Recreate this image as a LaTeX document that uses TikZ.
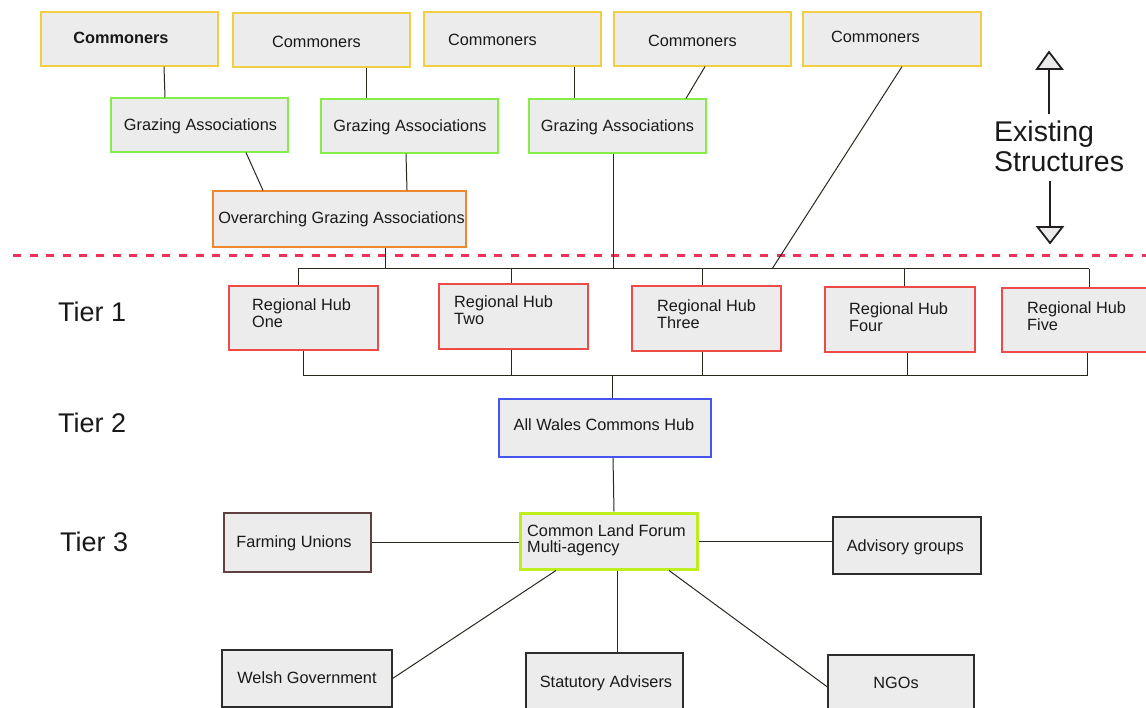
\documentclass[tikz,border=0pt]{standalone}
\usepackage{fontspec}
\setmainfont{Liberation Sans}
\definecolor{boxfill}{RGB}{236,236,236}
\definecolor{comc}{RGB}{242,206,70}
\definecolor{grzc}{RGB}{130,238,70}
\definecolor{orgc}{RGB}{240,135,45}
\definecolor{hubc}{RGB}{238,75,70}
\definecolor{bluc}{RGB}{70,85,240}
\definecolor{clfc}{RGB}{190,238,30}
\definecolor{fuc}{RGB}{95,65,65}
\definecolor{darkc}{RGB}{45,45,45}
\definecolor{linec}{RGB}{40,40,30}
\definecolor{dashc}{RGB}{235,50,90}
\definecolor{txtc}{RGB}{25,25,25}
\definecolor{arrc}{RGB}{35,31,32}
\definecolor{headfill}{RGB}{235,235,235}
\begin{document}
\begin{tikzpicture}[x=1pt,y=-1pt,
  every node/.style={font=\fontsize{16.3}{17}\selectfont, text=txtc},
  box/.style={rectangle, draw, fill=boxfill, line width=1.2pt, inner sep=0pt},
  cbox/.style={box, draw=comc, minimum width=177pt, minimum height=54pt},
  gbox/.style={box, draw=grzc, minimum width=177pt, minimum height=54pt},
  hbox/.style={box, draw=hubc, minimum width=149pt, minimum height=64pt},
  tbox/.style={box, draw=darkc, line width=1.1pt},
  txt/.style={inner sep=0pt, text height=11.7pt, text depth=0pt},
  htxt/.style={inner sep=0pt, anchor=north west, align=left},
  conn/.style={draw=linec, line width=1pt},
  tier/.style={inner sep=0pt, anchor=west, font=\fontsize{27}{30}\selectfont},
  shaft/.style={draw=arrc, line width=2.6pt},
  head/.style={draw=arrc, fill=headfill, line width=1.8pt, line join=miter}]
\useasboundingbox (0,0) rectangle (1146,708);

% Commoners
\node[cbox] (c1) at (129.5,39) {};
\node[cbox] (c2) at (321.5,40) {};
\node[cbox] (c3) at (512.5,39) {};
\node[cbox] (c4) at (702.5,39) {};
\node[cbox, minimum width=178pt] (c5) at (892,39) {};
\node[txt] (c1t) at (121,38) {\bfseries Commoners};
\node[txt] (c2t) at (316.5,42) {Commoners};
\node[txt] (c3t) at (492.5,40) {Commoners};
\node[txt] (c4t) at (692.5,41) {Commoners};
\node[txt] (c5t) at (875.5,37) {Commoners};

% Grazing associations
\node[gbox] (ga1) at (199.5,125) {};
\node[gbox] (ga2) at (409.5,126) {};
\node[gbox] (ga3) at (617.5,126) {};
\node[txt] (ga1t) at (200.5,125) {Grazing Associations};
\node[txt] (ga2t) at (410,126) {Grazing Associations};
\node[txt] (ga3t) at (617.5,126) {Grazing Associations};

% Overarching
\node[box, draw=orgc, minimum width=253pt, minimum height=56pt] (oga) at (339.5,219) {};
\node[txt] (ogat) at (341.5,218) {Overarching Grazing Associations};

% dashed separator
\coordinate (dl) at (13,256);
\coordinate (dr) at (1146,256);
\draw[dashc, line width=3pt, dash pattern=on 8pt off 8.6pt] (dl) -- (dr);

% Existing structures
\node[inner sep=0pt, anchor=north west, align=left, font=\fontsize{28.5}{30}\selectfont] (ex) at (994,121) {Existing\\Structures};
\coordinate (us) at (1049,114);
\coordinate (ub) at (1049,69);
\coordinate (ds) at (1050,181);
\coordinate (db) at (1050,227);
\draw[shaft] (us) -- (ub);
\draw[shaft] (ds) -- (db);
\draw[head] ([xshift=-12pt]ub) -- ([yshift=17pt]ub) -- ([xshift=13pt]ub) -- cycle;
\draw[head] ([xshift=-12.5pt]db) -- ([yshift=-16pt]db) -- ([xshift=12.5pt]db) -- cycle;

% Tier labels
\node[tier] (t1) at (58,312) {Tier 1};
\node[tier] (t2) at (58,423) {Tier 2};
\node[tier] (t3) at (60,542) {Tier 3};

% Regional hubs
\node[hbox] (h1) at (303.5,318) {};
\node[hbox, minimum height=65pt] (h2) at (513.5,316.5) {};
\node[hbox, minimum height=65pt] (h3) at (706.5,318.5) {};
\node[hbox, minimum width=150pt, minimum height=65pt] (h4) at (900,319.5) {};
\node[hbox] (h5) at (1076.5,320) {};
\node[htxt] (h1t) at (252,298) {Regional Hub\\One};
\node[htxt] (h2t) at (454,295) {Regional Hub\\Two};
\node[htxt] (h3t) at (657,299) {Regional Hub\\Three};
\node[htxt] (h4t) at (849,302) {Regional Hub\\Four};
\node[htxt] (h5t) at (1027,301) {Regional Hub\\Five};

% All Wales hub
\node[box, draw=bluc, minimum width=212pt, minimum height=58pt] (awc) at (605,428) {};
\node[txt] (awct) at (604,425) {All Wales Commons Hub};

% Common Land Forum
\node[box, draw=clfc, line width=3pt, minimum width=177pt, minimum height=56pt] (clf) at (608.5,541) {};
\node[htxt, font=\fontsize{16.3}{16}\selectfont] (clft) at (527,524) {Common Land Forum\\Multi-agency};

% Tier 3 partners
\node[box, draw=fuc, line width=1.1pt, minimum width=147pt, minimum height=59pt] (fu) at (297.5,542.5) {};
\node[txt] (fut) at (294,542) {Farming Unions};
\node[tbox, minimum width=148pt, minimum height=57pt] (ag) at (907,545.5) {};
\node[txt] (agt) at (905.3,545.7) {Advisory groups};
\node[tbox, minimum width=170pt, minimum height=57pt] (wg) at (307,678.5) {};
\node[txt] (wgt) at (307,678) {Welsh Government};
\node[tbox, minimum width=157pt, minimum height=64pt] (sa) at (604.5,685) {};
\node[txt] (sat) at (606,682) {Statutory Advisers};
\node[tbox, minimum width=146pt, minimum height=62pt] (ngo) at (901,686) {};
\node[txt] (ngot) at (896,683) {NGOs};

% connectors: commoners to grazing associations
\draw[conn] ([xshift=34.5pt]c1.south) -- ([xshift=-34.5pt]ga1.north);
\draw[conn] ([xshift=44.5pt]c2.south) -- ([xshift=-43.5pt]ga2.north);
\draw[conn] ([xshift=61.5pt]c3.south) -- ([xshift=-43.5pt]ga3.north);
\draw[conn] ([xshift=2.5pt]c4.south) -- ([xshift=68.5pt]ga3.north);
\draw[conn] ([xshift=46.5pt]ga1.south) -- ([xshift=-76.5pt]oga.north);
\draw[conn] ([xshift=-3.5pt]ga2.south) -- ([xshift=67.5pt]oga.north);

% upper bus
\coordinate (tbR) at (1089,269);
\coordinate (c5e) at (772,269);
\coordinate (ga3e) at (613,269);
\coordinate (ogae) at (385,269);
\draw[conn] (tbR) -| ([xshift=-5.5pt]h1.north);
\draw[conn] (tbR) -| ([xshift=-2.5pt]h2.north);
\draw[conn] (tbR) -| ([xshift=-4.5pt]h3.north);
\draw[conn] (tbR) -| ([xshift=4pt]h4.north);
\draw[conn] (tbR) -- ([xshift=12.5pt]h5.north);
\draw[conn] ([xshift=10pt]c5.south) -- (c5e);
\draw[conn] ([xshift=-4.5pt]ga3.south) -- (ga3e);
\draw[conn] ([xshift=45.5pt]oga.south) -- (ogae);

% lower bus
\coordinate (bbR) at (1087,376);
\draw[conn] (bbR) -| ([xshift=-0.5pt]h1.south);
\draw[conn] (bbR) -| ([xshift=-2.5pt]h2.south);
\draw[conn] (bbR) -| ([xshift=-4.5pt]h3.south);
\draw[conn] (bbR) -| ([xshift=7pt]h4.south);
\draw[conn] (bbR) -- ([xshift=10.5pt]h5.south);
\draw[conn] (bbR) -| ([xshift=7pt]awc.north);

% tier 2 to tier 3
\draw[conn] ([xshift=8pt]awc.south) -- ([xshift=5.5pt]clf.north);
\draw[conn] (fu.east) -- (fu.east -| clf.west);
\draw[conn] (clf.east) -- (clf.east -| ag.west);
\draw[conn] ([xshift=-52.5pt]clf.south) -- (wg.east);
\draw[conn] ([xshift=8.5pt]clf.south) -- ([xshift=12.5pt]sa.north);
\draw[conn] ([xshift=60.5pt]clf.south) -- ([yshift=-1pt]ngo.west);
\end{tikzpicture}
\end{document}
